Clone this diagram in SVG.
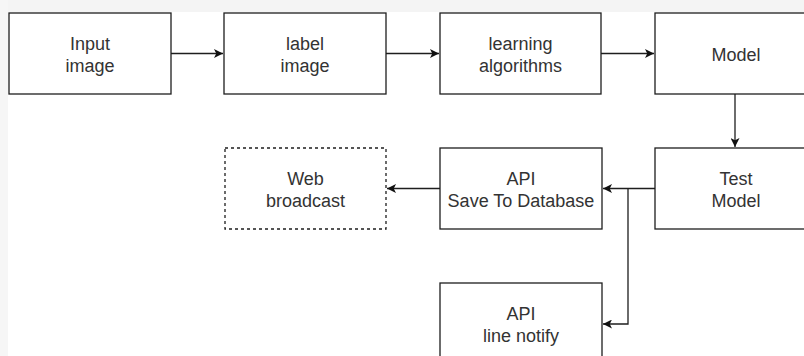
<svg xmlns="http://www.w3.org/2000/svg" width="804" height="356" viewBox="0 0 804 356">
  <defs>
    <style>
      .box { fill: #ffffff; stroke: #1e1e1e; stroke-width: 1.3; }
      .dash { stroke-dasharray: 3 3; }
      .lbl { font-family: "Liberation Sans", Arial, sans-serif; font-size: 18px; fill: #333333; text-anchor: middle; }
      .edge { fill: none; stroke: #1e1e1e; stroke-width: 1.3; }
    </style>
    <marker id="arrow" viewBox="0 0 10 10" refX="10" refY="5" markerWidth="9" markerHeight="9" markerUnits="userSpaceOnUse" orient="auto">
      <path d="M0,0 L10,5 L0,10 L2.5,5 Z" fill="#111111"/>
    </marker>
  </defs>

  <!-- page background with grey margins -->
  <rect x="0" y="0" width="804" height="356" fill="#ffffff"/>
  <rect x="0" y="0" width="804" height="12" fill="#f4f4f4"/>
  <rect x="0" y="0" width="8" height="356" fill="#f6f6f6"/>

  <g id="connectors">
    <path class="edge" d="M171,53.5 H223" marker-end="url(#arrow)"/>
    <path class="edge" d="M386,53.5 H439" marker-end="url(#arrow)"/>
    <path class="edge" d="M601,53.5 H654" marker-end="url(#arrow)"/>
    <path class="edge" d="M735,94 V147" marker-end="url(#arrow)"/>
    <path class="edge" d="M655,188.5 H603" marker-end="url(#arrow)"/>
    <path class="edge" d="M440,188.5 H387" marker-end="url(#arrow)"/>
    <path class="edge" d="M628,188.5 V324 H603" marker-end="url(#arrow)"/>
  </g>

  <g id="input-image">
    <rect class="box" x="9" y="13" width="162" height="81"/>
    <text class="lbl" x="90" y="50.3">Input</text>
    <text class="lbl" x="90" y="71.9">image</text>
  </g>

  <g id="label-image">
    <rect class="box" x="224" y="13" width="162" height="81"/>
    <text class="lbl" x="305" y="50.3">label</text>
    <text class="lbl" x="305" y="71.9">image</text>
  </g>

  <g id="learning-algorithms">
    <rect class="box" x="440" y="13" width="161" height="81"/>
    <text class="lbl" x="520.5" y="50.3">learning</text>
    <text class="lbl" x="520.5" y="71.9">algorithms</text>
  </g>

  <g id="model">
    <rect class="box" x="655" y="13" width="162" height="81"/>
    <text class="lbl" x="736" y="61.3">Model</text>
  </g>

  <g id="test-model">
    <rect class="box" x="655" y="148" width="162" height="81"/>
    <text class="lbl" x="736" y="185.3">Test</text>
    <text class="lbl" x="736" y="206.9">Model</text>
  </g>

  <g id="api-save">
    <rect class="box" x="440" y="148" width="162" height="81"/>
    <text class="lbl" x="521" y="185.3">API</text>
    <text class="lbl" x="521" y="206.9">Save To Database</text>
  </g>

  <g id="web-broadcast">
    <rect class="box dash" x="225" y="148" width="161" height="81"/>
    <text class="lbl" x="305.5" y="185.3">Web</text>
    <text class="lbl" x="305.5" y="206.9">broadcast</text>
  </g>

  <g id="api-line-notify">
    <rect class="box" x="440" y="283" width="162" height="81"/>
    <text class="lbl" x="521" y="320.3">API</text>
    <text class="lbl" x="521" y="341.9">line notify</text>
  </g>
</svg>
